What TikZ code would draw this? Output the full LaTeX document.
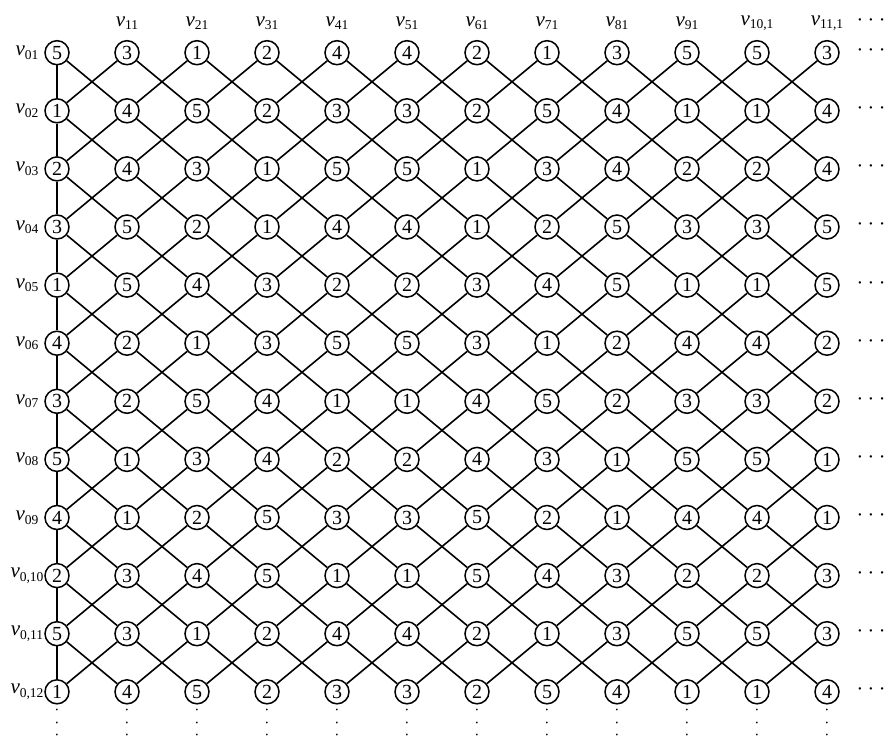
\documentclass[tikz,border=0pt]{standalone}
\usepackage{fontspec}
\setmainfont{Liberation Serif}
\newcommand\vlab[1]{\textit{v}\raisebox{-3.5pt}{\fontsize{13.5}{13.5}\selectfont #1}}
\newcommand\myhdots{\textperiodcentered\hspace{4.5pt}\textperiodcentered\hspace{4.5pt}\textperiodcentered}
\begin{document}
\begin{tikzpicture}[x=1pt,y=-1pt,
  vtx/.style={circle,draw,line width=1.5pt,inner sep=0pt,minimum size=24pt,font=\fontsize{20}{20}\selectfont},
  lbl/.style={font=\fontsize{21}{21}\selectfont, inner sep=0pt},
  dotlbl/.style={font=\fontsize{20}{20}\selectfont, inner sep=0pt},
  vdot/.style={font=\fontsize{7.5}{7.5}\selectfont, inner sep=0pt},
  edge/.style={line width=1.6pt}]
\useasboundingbox (0,0) rectangle (884,740);
% vertices
\foreach \row [count=\r] in {
  {5,3,1,2,4,4,2,1,3,5,5,3},
  {1,4,5,2,3,3,2,5,4,1,1,4},
  {2,4,3,1,5,5,1,3,4,2,2,4},
  {3,5,2,1,4,4,1,2,5,3,3,5},
  {1,5,4,3,2,2,3,4,5,1,1,5},
  {4,2,1,3,5,5,3,1,2,4,4,2},
  {3,2,5,4,1,1,4,5,2,3,3,2},
  {5,1,3,4,2,2,4,3,1,5,5,1},
  {4,1,2,5,3,3,5,2,1,4,4,1},
  {2,3,4,5,1,1,5,4,3,2,2,3},
  {5,3,1,2,4,4,2,1,3,5,5,3},
  {1,4,5,2,3,3,2,5,4,1,1,4}} {
  \foreach \val [count=\c from 0] in \row {
    \node[vtx] (n-\c-\r) at ({57+70*\c},{52.7+58.1*(\r-1)}) {\val};
  }
  \node[dotlbl] (rd-\r) at (871,{52.7+58.1*(\r-1)}) {\myhdots};
}
% diagonal edges
\foreach \c in {0,...,10} {
  \pgfmathtruncatemacro\cn{\c+1}
  \foreach \r in {1,...,11} {
    \pgfmathtruncatemacro\rn{\r+1}
    \draw[edge] (n-\c-\r) -- (n-\cn-\rn);
    \draw[edge] (n-\c-\rn) -- (n-\cn-\r);
  }
}
% vertical edges in column 0
\foreach \r in {1,...,11} {
  \pgfmathtruncatemacro\rn{\r+1}
  \draw[edge] (n-0-\r) -- (n-0-\rn);
}
% header labels
\foreach \c in {1,...,9} {
  \node[lbl] (h-\c) at ({57+70*\c},23) {\vlab{\c1}};
}
\node[lbl] (h-10) at (757,23) {\vlab{10,1}};
\node[lbl] (h-11) at (827,23) {\vlab{11,1}};
\node[dotlbl] (hd) at (871,23) {\myhdots};
% left labels
\foreach \r in {1,...,9} {
  \node[lbl] (l-\r) at (27,{52.7+58.1*(\r-1)}) {\vlab{0\r}};
}
\foreach \r in {10,11,12} {
  \node[lbl] (l-\r) at (27,{52.7+58.1*(\r-1)}) {\vlab{0,\r}};
}
% vertical dots below
\foreach \c in {0,...,11} {
  \foreach \k [count=\j] in {710.5,723.5,736} {
    \node[vdot] (vd-\c-\j) at ({57+70*\c},\k) {•};
  }
}
\end{tikzpicture}
\end{document}
